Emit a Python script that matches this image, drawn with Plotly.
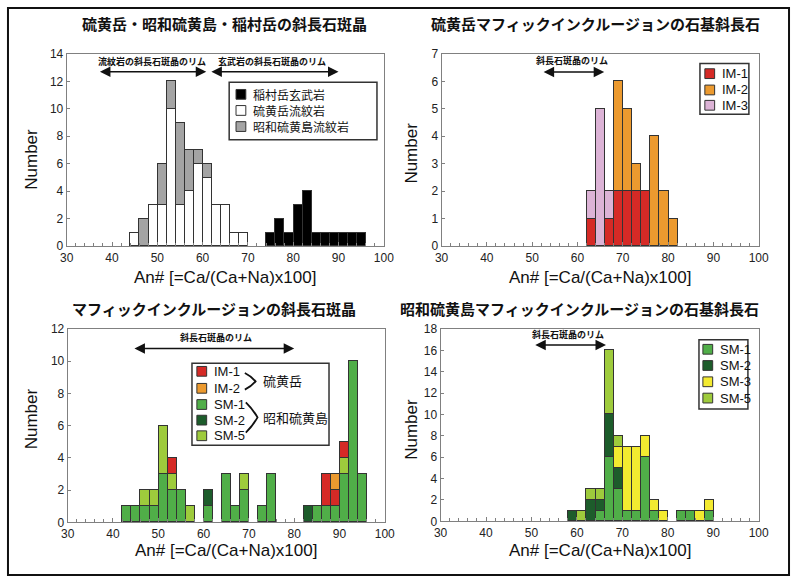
import plotly.graph_objects as go

W, H = 800, 583

# ---------------- DATA ----------------
# Panel 1: 硫黄岳・昭和硫黄島・稲村岳の斜長石斑晶 (bin start, width 2)
p1_bins = list(range(44, 96, 2))
p1_iwodake_rhyolite = [1, 0, 3, 3, 10, 3, 4, 6, 5, 3, 3, 1, 1, 0, 0, 0, 0, 0, 0, 0, 0, 0, 0, 0, 0, 0]
p1_showa_rhyolite = [0, 2, 0, 3, 2, 6, 3, 1, 1, 0, 0, 0, 0, 0, 0, 0, 0, 0, 0, 0, 0, 0, 0, 0, 0, 0]
p1_inamura_basalt = [0, 0, 0, 0, 0, 0, 0, 0, 0, 0, 0, 0, 0, 0, 0, 1, 2, 1, 3, 4, 1, 1, 1, 1, 1, 1]

# Panel 2: 硫黄岳マフィックインクルージョンの石基斜長石
p2_bins = list(range(62, 82, 2))
p2_im1 = [1, 0, 1, 2, 2, 2, 2, 0, 0, 0]
p2_im2 = [0, 0, 0, 4, 3, 1, 0, 4, 2, 1]
p2_im3 = [1, 5, 1, 0, 0, 0, 0, 0, 0, 0]

# Panel 3: マフィックインクルージョンの斜長石斑晶
p3_bins = list(range(42, 96, 2))
p3_sm1 = [1, 1, 1, 1, 3, 2, 2, 0, 0, 1, 0, 3, 1, 2, 0, 1, 3, 0, 0, 0, 0, 1, 1, 1, 3, 10, 3]
p3_sm2 = [0, 0, 0, 0, 0, 0, 0, 0, 0, 1, 0, 0, 0, 0, 0, 0, 0, 0, 0, 0, 1, 0, 0, 0, 0, 0, 0]
p3_sm5 = [0, 0, 1, 1, 3, 1, 0, 1, 0, 0, 0, 0, 0, 1, 0, 0, 0, 0, 0, 0, 0, 0, 0, 0, 1, 0, 0]
p3_im1 = [0, 0, 0, 0, 0, 1, 0, 0, 0, 0, 0, 0, 0, 0, 0, 0, 0, 0, 0, 0, 0, 0, 2, 1, 1, 0, 0]
p3_im2 = [0, 0, 0, 0, 0, 0, 0, 0, 0, 0, 0, 0, 0, 0, 0, 0, 0, 0, 0, 0, 0, 0, 0, 1, 0, 0, 0]

# Panel 4: 昭和硫黄島マフィックインクルージョンの石基斜長石
p4_bins = list(range(58, 90, 2))
p4_sm1 = [0, 0, 0, 1, 6, 3, 1, 1, 6, 1, 0, 0, 1, 1, 0, 1]
p4_sm2 = [1, 0, 2, 1, 4, 2, 0, 0, 0, 0, 0, 0, 0, 0, 0, 0]
p4_sm3 = [0, 0, 0, 0, 0, 2, 6, 6, 2, 1, 1, 0, 0, 0, 1, 1]
p4_sm5 = [0, 1, 1, 1, 6, 1, 0, 0, 0, 0, 0, 0, 0, 0, 0, 0]

BIN_W = 2

# ---------------- STYLE ----------------
C_RED = "#d52a26"
C_ORANGE = "#ec9a2f"
C_PINK = "#dcb3d6"
C_GREEN = "#50ae48"
C_DKGREEN = "#1d5c2b"
C_YELLOW = "#f3ea30"
C_LTGREEN = "#9ecb3c"
C_GRAY = "#a4a4a4"
C_WHITE = "#ffffff"
C_BLACK = "#000000"
OUTLINE = "#333333"
FRAME = "#808080"

JP = "Noto Sans CJK JP"
LAT = "Liberation Sans"


def px(x):
    return x / W


def py(y):
    return 1 - y / H


# plot-area pixel boxes (left, right, top, bottom)
boxes = {
    1: (61, 385, 48, 245),
    2: (444, 768, 48, 245),
    3: (62, 386, 330, 528),
    4: (443, 768, 330, 527),
}
yranges = {1: (14, 2), 2: (7, 1), 3: (12, 2), 4: (18, 2)}

fig = go.Figure()


def add_bar(n, bins, vals, color):
    fig.add_trace(go.Bar(
        x=[b + BIN_W / 2 for b in bins],
        y=[v if v else None for v in vals],
        width=BIN_W,
        xaxis="x" if n == 1 else f"x{n}",
        yaxis="y" if n == 1 else f"y{n}",
        marker=dict(color=color, line=dict(color=OUTLINE, width=1)),
        showlegend=False,
        hoverinfo="x+y",
    ))


add_bar(1, p1_bins, p1_iwodake_rhyolite, C_WHITE)
add_bar(1, p1_bins, p1_showa_rhyolite, C_GRAY)
add_bar(1, p1_bins, p1_inamura_basalt, C_BLACK)

add_bar(2, p2_bins, p2_im1, C_RED)
add_bar(2, p2_bins, p2_im2, C_ORANGE)
add_bar(2, p2_bins, p2_im3, C_PINK)

add_bar(3, p3_bins, p3_sm1, C_GREEN)
add_bar(3, p3_bins, p3_sm2, C_DKGREEN)
add_bar(3, p3_bins, p3_sm5, C_LTGREEN)
add_bar(3, p3_bins, p3_im1, C_RED)
add_bar(3, p3_bins, p3_im2, C_ORANGE)

add_bar(4, p4_bins, p4_sm1, C_GREEN)
add_bar(4, p4_bins, p4_sm2, C_DKGREEN)
add_bar(4, p4_bins, p4_sm3, C_YELLOW)
add_bar(4, p4_bins, p4_sm5, C_LTGREEN)

layout_axes = {}
for n, (l, r, t, b) in boxes.items():
    xs = "xaxis" if n == 1 else f"xaxis{n}"
    ys = "yaxis" if n == 1 else f"yaxis{n}"
    xa = "x" if n == 1 else f"x{n}"
    ya = "y" if n == 1 else f"y{n}"
    ymax, ydt = yranges[n]
    layout_axes[xs] = dict(
        domain=[px(l), px(r)], anchor=ya, range=[30, 100], dtick=10, tick0=0,
        ticks="inside", ticklen=4, tickcolor=FRAME, tickwidth=1,
        showline=True, linecolor=FRAME, linewidth=1, mirror=True,
        showgrid=False, zeroline=False, fixedrange=True,
        tickfont=dict(family=LAT, size=12, color="#222"),
        minor=dict(dtick=2, tick0=0, ticks="inside", ticklen=3, tickcolor=FRAME, showgrid=False),
    )
    layout_axes[ys] = dict(
        domain=[py(b), py(t)], anchor=xa, range=[0, ymax], dtick=ydt, tick0=0,
        ticks="inside", ticklen=3, tickcolor=FRAME, tickwidth=1,
        showline=True, linecolor=FRAME, linewidth=1, mirror=True,
        showgrid=False, zeroline=False, fixedrange=True,
        tickfont=dict(family=LAT, size=12, color="#222"),
    )

annotations = []
shapes = []


def text(x, y, s, size, family=JP, anchor="center", bold=False, color="#111"):
    annotations.append(dict(
        x=px(x), y=py(y), xref="paper", yref="paper", text=s, showarrow=False,
        xanchor=anchor, yanchor="middle",
        font=dict(family=family, size=size, color=color, weight="bold" if bold else "normal"),
    ))


# titles
text(222, 17, "硫黄岳・昭和硫黄島・稲村岳の斜長石斑晶", 15, bold=True)
text(601, 17, "硫黄岳マフィックインクルージョンの石基斜長石", 15, bold=True)
text(212, 309, "マフィックインクルージョンの斜長石斑晶", 15, bold=True)
text(585, 309, "昭和硫黄島マフィックインクルージョンの石基斜長石", 15, bold=True)

# axis titles
for xc, yc in [(223, 277), (606, 277), (224, 557), (606, 557)]:
    text(xc, yc, "An# [=Ca/(Ca+Na)x100]", 17, family=LAT, color="#111")
for xc, yc in [(25, 156), (413, 150), (25, 422), (413, 433)]:
    annotations.append(dict(
        x=px(xc), y=py(yc), xref="paper", yref="paper", text="Number", showarrow=False,
        textangle=-90, xanchor="center", yanchor="middle",
        font=dict(family=LAT, size=17, color="#111"),
    ))


# rim arrows (data coordinates)
def arrow(n, x0, x1, yv, label, lx, ly):
    xa = "x" if n == 1 else f"x{n}"
    ya = "y" if n == 1 else f"y{n}"
    annotations.append(dict(
        x=x1, y=yv, ax=x0, ay=yv, xref=xa, yref=ya, axref=xa, ayref=ya,
        text="", showarrow=True, arrowhead=2, arrowside="end+start",
        arrowsize=1.4, arrowwidth=1.5, arrowcolor="#111", standoff=0, startstandoff=0,
    ))
    annotations.append(dict(
        x=lx, y=ly, xref=xa, yref=ya, text=label, showarrow=False,
        xanchor="center", yanchor="middle",
        font=dict(family=JP, size=9, color="#111", weight="bold"),
    ))


arrow(1, 37, 60.8, 12.7, "流紋岩の斜長石斑晶のリム", 48.9, 13.45)
arrow(1, 61.6, 90, 12.7, "玄武岩の斜長石斑晶のリム", 75.3, 13.45)
arrow(2, 52.2, 65.9, 6.34, "斜長石斑晶のリム", 58.8, 6.75)
arrow(3, 44.4, 80, 10.8, "斜長石斑晶のリム", 62.7, 11.45)
arrow(4, 50.5, 66.4, 16.5, "斜長石斑晶のリム", 58.1, 17.45)


# manual legends
def legend_box(l, r, t, b):
    shapes.append(dict(type="rect", xref="paper", yref="paper",
                       x0=px(l), x1=px(r), y0=py(b), y1=py(t),
                       line=dict(color="#333", width=1.5), fillcolor="white", layer="above"))


def legend_item(sx, cy, color, label, size, family):
    shapes.append(dict(type="rect", xref="paper", yref="paper",
                       x0=px(sx), x1=px(sx + 10), y0=py(cy + 5), y1=py(cy - 5),
                       line=dict(color=OUTLINE, width=1), fillcolor=color, layer="above"))
    text(sx + 15, cy, label, size, family=family, anchor="left")


legend_box(227, 378, 77, 136)
for cy, c, lab in [(89.5, C_BLACK, "稲村岳玄武岩"), (106, C_WHITE, "硫黄岳流紋岩"), (122.5, C_GRAY, "昭和硫黄島流紋岩")]:
    legend_item(234, cy, c, lab, 12, JP)

legend_box(708, 758, 58, 110)
for cy, c, lab in [(68.3, C_RED, "IM-1"), (85, C_ORANGE, "IM-2"), (100.7, C_PINK, "IM-3")]:
    legend_item(713, cy, c, lab, 13, LAT)

legend_box(189, 329, 365, 449)
for cy, c, lab in [(373.3, C_RED, "IM-1"), (390.7, C_ORANGE, "IM-2"), (407.3, C_GREEN, "SM-1"),
                   (423.3, C_DKGREEN, "SM-2"), (439.3, C_LTGREEN, "SM-5")]:
    legend_item(194, cy, c, lab, 13, LAT)


def chevron(x0, x1, ytop, ybot):
    ym = (ytop + ybot) / 2
    path = (f"M {px(x0)},{py(ytop)} Q {px((x0 + x1) / 2 + 1)},{py((ytop + ym) / 2 - 1)} {px(x1)},{py(ym)} "
            f"Q {px((x0 + x1) / 2 + 1)},{py((ym + ybot) / 2 + 1)} {px(x0)},{py(ybot)}")
    shapes.append(dict(type="path", xref="paper", yref="paper", path=path,
                       line=dict(color="#111", width=1.8), layer="above"))


chevron(243, 254, 375, 392)
chevron(244, 256, 405, 436)
text(260, 383, "硫黄岳", 13, anchor="left")
text(260, 421, "昭和硫黄島", 13, anchor="left")

legend_box(707, 757, 341, 412)
for cy, c, lab in [(350.7, C_GREEN, "SM-1"), (367.3, C_DKGREEN, "SM-2"), (384, C_YELLOW, "SM-3"),
                   (400.7, C_LTGREEN, "SM-5")]:
    legend_item(711, cy, c, lab, 13, LAT)

# outer border
shapes.append(dict(type="rect", xref="paper", yref="paper",
                   x0=px(1), x1=px(799), y0=py(582), y1=py(1),
                   line=dict(color="#111", width=2), layer="above"))

fig.update_layout(
    width=W, height=H,
    margin=dict(l=0, r=0, t=0, b=0),
    paper_bgcolor="white", plot_bgcolor="white",
    barmode="stack", bargap=0,
    showlegend=False,
    annotations=annotations, shapes=shapes,
    **layout_axes,
)

fig.write_html("out.html")
